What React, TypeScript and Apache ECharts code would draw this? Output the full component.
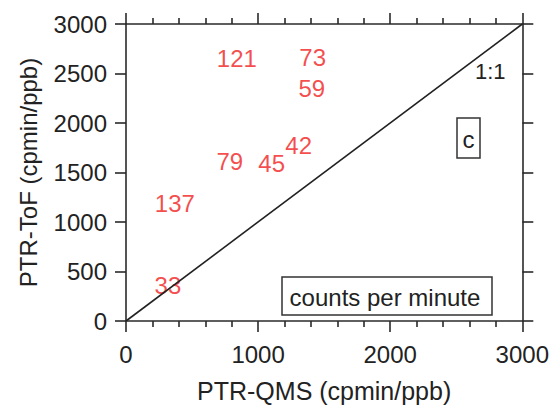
import React, { useEffect, useRef } from "react";
import * as echarts from "echarts";

const labels = ["121", "73", "59", "42", "45", "79", "137", "33"];
const qmsValues = [839, 1413, 1406, 1307, 1103, 786, 370, 317];
const tofValues = [2647, 2657, 2353, 1775, 1588, 1608, 1186, 363];
const oneToOne = [
  [0, 0],
  [3000, 3000],
];
const xTitle = "PTR-QMS (cpmin/ppb)";
const yTitle = "PTR-ToF (cpmin/ppb)";

const FONT = "'Liberation Sans', Arial, Helvetica, sans-serif";
const AX = "#2a2a2a";

export default function App() {
  const ref = useRef<HTMLDivElement>(null);
  useEffect(() => {
    if (!ref.current) return;
    const chart = echarts.init(ref.current, null, { renderer: "svg" });
    const mkTick = () => ({
      show: true,
      inside: false,
      length: 11,
      lineStyle: { color: AX, width: 1.6 },
    });
    const mkX = (): any => ({
      type: "value",
      min: 0,
      max: 3000,
      interval: 1000,
      axisLine: { show: true, onZero: false, lineStyle: { color: AX, width: 1.6 } },
      axisTick: mkTick(),
      minorTick: { show: true, splitNumber: 5, length: 6, lineStyle: { color: AX, width: 1.6 } },
      splitLine: { show: false },
      minorSplitLine: { show: false },
    });
    const mkY = (): any => ({
      type: "value",
      min: 0,
      max: 3000,
      interval: 500,
      axisLine: { show: true, onZero: false, lineStyle: { color: AX, width: 1.6 } },
      axisTick: mkTick(),
      splitLine: { show: false },
    });
    const fmt = (v: number) => String(v);
    chart.setOption({
      animation: false,
      backgroundColor: "#fff",
      grid: { left: 126, right: 29, top: 24, bottom: 78, containLabel: false },
      xAxis: [
        {
          ...mkX(),
          position: "bottom",
          name: xTitle,
          nameLocation: "middle",
          nameGap: 57,
          nameTextStyle: { fontFamily: FONT, fontSize: 25, color: "#222" },
          axisLabel: { show: true, margin: 21, fontFamily: FONT, fontSize: 24, color: "#222", formatter: fmt },
        },
        {
          ...mkX(),
          position: "top",
          axisLabel: { show: false },
        },
      ],
      yAxis: [
        {
          ...mkY(),
          position: "left",
          name: yTitle,
          nameLocation: "middle",
          nameGap: 86,
          nameTextStyle: { fontFamily: FONT, fontSize: 24, color: "#222" },
          axisLabel: { show: true, margin: 19, fontFamily: FONT, fontSize: 24, color: "#222", formatter: fmt },
        },
        {
          ...mkY(),
          position: "right",
          axisLabel: { show: false },
        },
      ],
      series: [
        {
          type: "line",
          data: oneToOne,
          xAxisIndex: 0,
          yAxisIndex: 0,
          showSymbol: false,
          symbol: "none",
          lineStyle: { color: "#222", width: 1.6 },
          silent: true,
        },
        {
          type: "scatter",
          xAxisIndex: 0,
          yAxisIndex: 0,
          symbolSize: 1,
          itemStyle: { color: "rgba(0,0,0,0)" },
          data: labels.map((l, i) => ({ name: l, value: [qmsValues[i], tofValues[i]] })),
          label: {
            show: true,
            position: "inside",
            formatter: (p: any) => p.name,
            fontFamily: FONT,
            fontSize: 24,
            color: "#f21d1d",
          },
        },
      ],
      graphic: [
        {
          type: "text",
          left: 475,
          top: 60,
          style: { text: "1:1", fontFamily: FONT, fontSize: 22, fill: "#222" },
        },
        {
          type: "rect",
          shape: { x: 457, y: 118, width: 23, height: 40 },
          style: { fill: "#fff", stroke: "#333", lineWidth: 1.5 },
        },
        {
          type: "text",
          x: 468.5,
          y: 139,
          style: {
            text: "c",
            fontFamily: FONT,
            fontSize: 24,
            fill: "#222",
            align: "center",
            verticalAlign: "middle",
          },
        },
        {
          type: "rect",
          shape: { x: 282, y: 277, width: 210, height: 38 },
          style: { fill: "#fff", stroke: "#333", lineWidth: 1.5 },
        },
        {
          type: "text",
          x: 385,
          y: 297,
          style: {
            text: "counts per minute",
            fontFamily: FONT,
            fontSize: 24,
            fill: "#222",
            align: "center",
            verticalAlign: "middle",
          },
        },
      ],
    });
    return () => chart.dispose();
  }, []);
  return (
    <div
      ref={ref}
      style={{ position: "fixed", left: 0, top: 0, width: 552, height: 408 }}
    />
  );
}
